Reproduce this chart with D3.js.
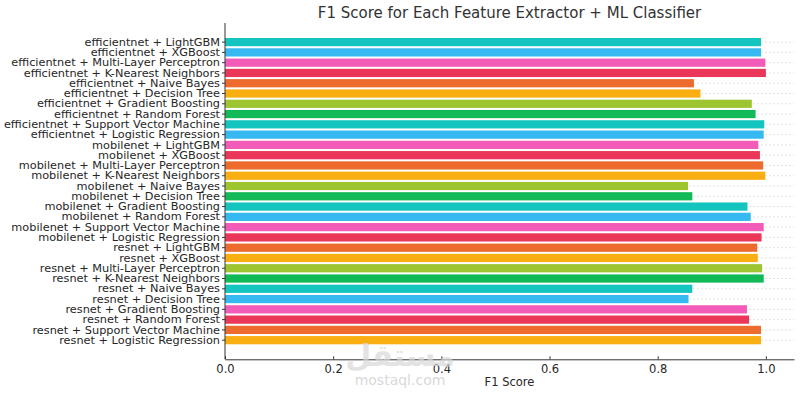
<!DOCTYPE html>
<html>
<head>
<meta charset="utf-8">
<script src="https://cdn.jsdelivr.net/npm/d3@7"></script>
<style>
  body { margin: 0; background: #fff; }
  svg text { font-family: "DejaVu Sans", sans-serif; }
</style>
</head>
<body>
<svg id="chart" width="800" height="396"></svg>
<script>
// data, top to bottom as drawn
const extractors = ["efficientnet", "mobilenet", "resnet"];
const classifiers = ["LightGBM", "XGBoost", "Multi-Layer Perceptron", "K-Nearest Neighbors",
  "Naive Bayes", "Decision Tree", "Gradient Boosting", "Random Forest",
  "Support Vector Machine", "Logistic Regression"];
const f1Scores = [
  0.991, 0.991, 0.999, 1.000, 0.867, 0.879, 0.974, 0.981, 0.997, 0.996,   // efficientnet
  0.986, 0.989, 0.995, 0.999, 0.856, 0.864, 0.966, 0.972, 0.996, 0.992,   // mobilenet
  0.984, 0.985, 0.993, 0.996, 0.864, 0.857, 0.965, 0.969, 0.991, 0.991    // resnet
];
const xTicks = [0, 0.2, 0.4, 0.6, 0.8, 1.0];
const palette = ["#14c4bf", "#36b9f0", "#f35bb9", "#ea3659", "#ec6b2d", "#f9ae12", "#9cc530", "#11b957"];

const labels = [];
extractors.forEach(e => classifiers.forEach(c => labels.push(e + " + " + c)));
const rows = labels.map((l, i) => ({ label: l, value: f1Scores[i] }));

const svg = d3.select("#chart");
const m_Left = 225, m_Right = 794, m_Top = 23, m_Bottom = 359.3;

const x = d3.scaleLinear().domain([0, 1.052]).range([m_Left, m_Right]);
const y = d3.scaleBand().domain(labels).range([m_Top, m_Bottom])
  .paddingInner(0.2).paddingOuter(1.46);

// dashed horizontal grid
svg.append("g").selectAll("line").data(rows).enter().append("line")
  .attr("x1", m_Left).attr("x2", m_Right)
  .attr("y1", d => y(d.label) + y.bandwidth() / 2)
  .attr("y2", d => y(d.label) + y.bandwidth() / 2)
  .attr("stroke", "#d9d9d9").attr("stroke-width", 0.8)
  .attr("stroke-dasharray", "2,2");

// bars
svg.append("g").selectAll("rect").data(rows).enter().append("rect")
  .attr("x", x(0))
  .attr("y", d => y(d.label))
  .attr("width", d => x(d.value) - x(0))
  .attr("height", y.bandwidth())
  .attr("fill", (d, i) => palette[i % palette.length]);

// y axis
const yAxis = svg.append("g").attr("transform", "translate(" + m_Left + ",0)")
  .call(d3.axisLeft(y).tickSize(3).tickPadding(2));
yAxis.select(".domain").attr("d", "M0," + m_Top + "V" + m_Bottom).attr("stroke", "#333");
yAxis.selectAll(".tick line").attr("stroke", "#333");
yAxis.selectAll(".tick text").attr("font-size", 11.3).attr("fill", "#262626");

// x axis, ticks pointing inward
const xAxis = svg.append("g").attr("transform", "translate(0," + m_Bottom + ")")
  .call(d3.axisBottom(x).tickValues(xTicks).tickFormat(d3.format(".1f")).tickSizeInner(-3).tickSizeOuter(0).tickPadding(6));
xAxis.select(".domain").attr("stroke", "#333");
xAxis.selectAll(".tick line").attr("stroke", "#333");
xAxis.selectAll(".tick text").attr("font-size", 11.5).attr("fill", "#262626");

svg.append("text").attr("x", (m_Left + m_Right) / 2).attr("y", 386)
  .attr("text-anchor", "middle").attr("font-size", 11.5).attr("fill", "#262626")
  .text("F1 Score");

svg.append("text").attr("x", (m_Left + m_Right) / 2).attr("y", 18)
  .attr("text-anchor", "middle").attr("font-size", 15).attr("fill", "#333")
  .text("F1 Score for Each Feature Extractor + ML Classifier");

// faint site watermark
svg.append("text").attr("x", 400).attr("y", 366)
  .attr("text-anchor", "middle").attr("font-size", 30).attr("font-weight", "bold")
  .attr("fill", "#d8d8d8").attr("opacity", 0.7).text("مستقل");
svg.append("text").attr("x", 400).attr("y", 385)
  .attr("text-anchor", "middle").attr("font-size", 14)
  .attr("fill", "#d0d0d0").attr("opacity", 0.8).text("mostaql.com");
</script>
</body>
</html>
